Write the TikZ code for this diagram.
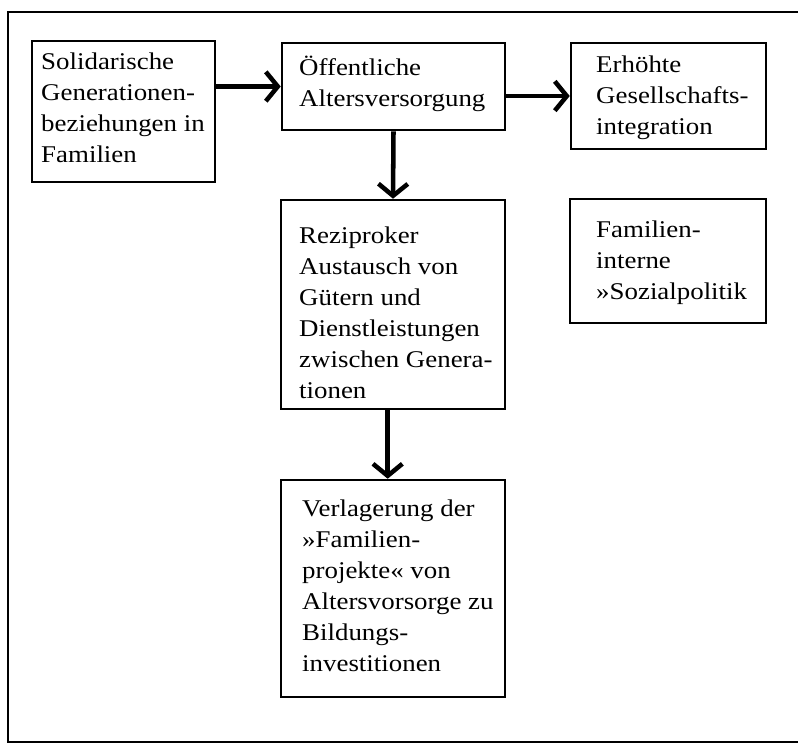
\documentclass[tikz,border=0pt]{standalone}
\usepackage{fontspec}
\setmainfont{Liberation Serif}[FakeStretch=1.12]
\usetikzlibrary{arrows.meta,fit}

\tikzset{every picture/.style={line width=0.75pt}}
\tikzset{
  kasten/.style={draw, line width=1.9pt, inner sep=0pt},
  kastentext/.style={anchor=north west, inner sep=0pt, align=left, font=\fontsize{18}{23.25}\selectfont},
  pfeil/.style={line width=3.4pt, -{Straight Barb[length=9pt,width=22pt,line width=3.4pt]}}
}

\begin{document}
\begin{tikzpicture}[x=0.75pt,y=0.75pt,yscale=-1,xscale=1]
\useasboundingbox (0,0) rectangle (798,744);

%Straight Lines (frame)
\draw [line width=2.2pt] (798,12) -- (8,12) -- (8,742) -- (798,742) ;

%Shape: Rectangle
\node [kasten, fit={(32,41) (215,182)}] (solid) {};
%Shape: Rectangle
\node [kasten, fit={(282,43) (505,130)}] (oeff) {};
%Shape: Rectangle
\node [kasten, fit={(571,43) (766,149)}] (integr) {};
%Shape: Rectangle
\node [kasten, fit={(281,200) (505,409)}] (tausch) {};
%Shape: Rectangle
\node [kasten, fit={(570,199) (766,323)}] (sozpol) {};
%Shape: Rectangle
\node [kasten, fit={(281,480) (505,697)}] (verlag) {};

% Text Node
\node [kastentext] (solidtext) at ([shift={(10,7.3)}]solid.north west) {\strut Solidarische\\Generationen-\\beziehungen in\\Familien};
% Text Node
\node [kastentext] (oefftext) at ([shift={(18,11.3)}]oeff.north west) {\strut Öffentliche\\Altersversorgung};
% Text Node
\node [kastentext] (integrtext) at ([shift={(26,8.3)}]integr.north west) {\strut Erhöhte\\Gesellschafts-\\integration};
% Text Node
\node [kastentext] (tauschtext) at ([shift={(19,22.3)}]tausch.north west) {\strut Reziproker\\Austausch von\\Gütern und\\Dienstleistungen\\zwischen Genera-\\tionen};
% Text Node
\node [kastentext] (sozpoltext) at ([shift={(27,17.3)}]sozpol.north west) {\strut Familien-\\interne\\»Sozialpolitik};
% Text Node
\node [kastentext] (verlagtext) at ([shift={(22,15.3)}]verlag.north west) {\strut Verlagerung der\\»Familien-\\projekte« von\\Altersvorsorge zu\\Bildungs-\\investitionen};

%Straight Lines (arrows)
\draw [pfeil] (solid.east |- oeff.west) -- (oeff.west) ;
\draw [pfeil] (oeff.east |- integr.west) -- (integr.west) ;
\draw [pfeil] (oeff.south) -- (tausch.north) ;
\draw [pfeil] ([xshift=-4]tausch.south) -- ([xshift=-4]verlag.north) ;

\end{tikzpicture}
\end{document}
